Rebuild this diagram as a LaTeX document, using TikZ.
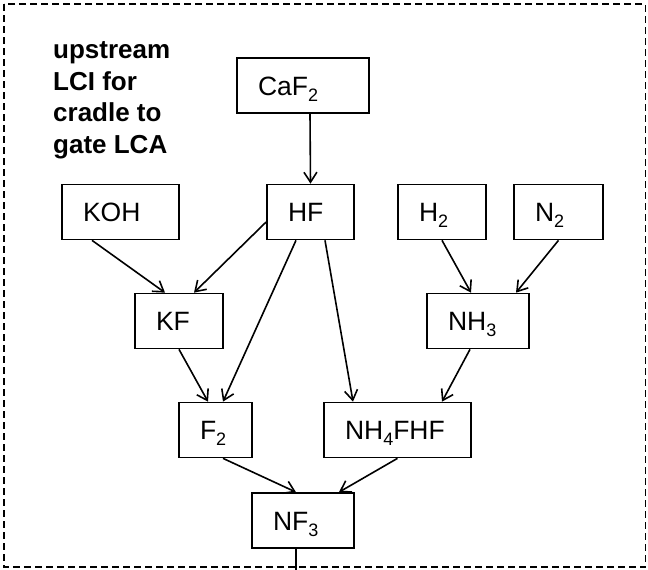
\documentclass[tikz,border=0pt]{standalone}
\usepackage{fontspec}
\setmainfont{Liberation Sans}
\usetikzlibrary{arrows.meta}
\newcommand{\chsub}[1]{\raisebox{-6pt}{\fontsize{18}{18}\selectfont #1}}

\begin{document}
\begin{tikzpicture}[x=1pt, y=-1pt, >={Straight Barb[length=10pt,width=13pt]},
    box/.style={draw, line width=1.7pt, inner xsep=21pt, inner ysep=0pt, align=left,
        text height=19pt, text depth=0pt,
        minimum height=55pt, font=\fontsize{26.5}{31}\selectfont},
    flow/.style={->, line width=1.6pt}]
    \useasboundingbox (0,0) rectangle (648,570);
    \draw[dashed, line width=1.7pt, dash pattern=on 7pt off 4pt] (4,4) rectangle (645.5,567);

    \node[anchor=base west, align=left, font=\bfseries\fontsize{26}{31.5}\selectfont, inner sep=0pt]
        (title) at (53,153) {upstream\\LCI for\\cradle to\\gate LCA};

    \node[box, text width=90pt] (caf) at (303,85.5) {CaF\chsub{2}};
    \node[box, text width=75pt] (koh) at (120.5,212) {KOH};
    \node[box, text width=45pt] (hf) at (310.5,212) {HF};
    \node[box, text width=46pt] (h2) at (442,212) {H\chsub{2}};
    \node[box, text width=47pt] (n2) at (558.5,212) {N\chsub{2}};
    \node[box, text width=46pt] (kf) at (179,321) {KF};
    \node[box, text width=60pt] (nh3) at (478,321) {NH\chsub{3}};
    \node[box, text width=31pt] (f2) at (215.5,430) {F\chsub{2}};
    \node[box, text width=105pt] (nh4) at (397.5,430) {NH\chsub{4}FHF};
    \node[box, text width=60pt] (nf3) at (303,520.5) {NF\chsub{3}};
    \coordinate (out) at (296,570);

    \draw[flow] ([xshift=7pt]caf.south) -- (hf.north);
    \draw[flow] ([xshift=-28.5pt]koh.south) -- ([xshift=-14pt]kf.north);
    \draw[flow] ([yshift=-10pt]hf.west) -- ([xshift=15pt]kf.north);
    \draw[flow] ([xshift=-14.5pt]hf.south) -- ([xshift=7.5pt]f2.north);
    \draw[flow] ([xshift=14.5pt]hf.south) -- ([xshift=-44.5pt]nh4.north);
    \draw[flow] (h2.south) -- ([xshift=-7pt]nh3.north);
    \draw[flow] (n2.south) -- ([xshift=38pt]nh3.north);
    \draw[flow] ([xshift=-8pt]nh3.south) -- ([xshift=44.5pt]nh4.north);
    \draw[flow] (kf.south) -- ([xshift=-7.5pt]f2.north);
    \draw[flow] ([xshift=7.5pt]f2.south) -- ([xshift=-7pt]nf3.north);
    \draw[flow] (nh4.south) -- ([xshift=36pt]nf3.north);
    \draw[line width=1.6pt] ([xshift=-7pt]nf3.south) -- (out);
\end{tikzpicture}
\end{document}
